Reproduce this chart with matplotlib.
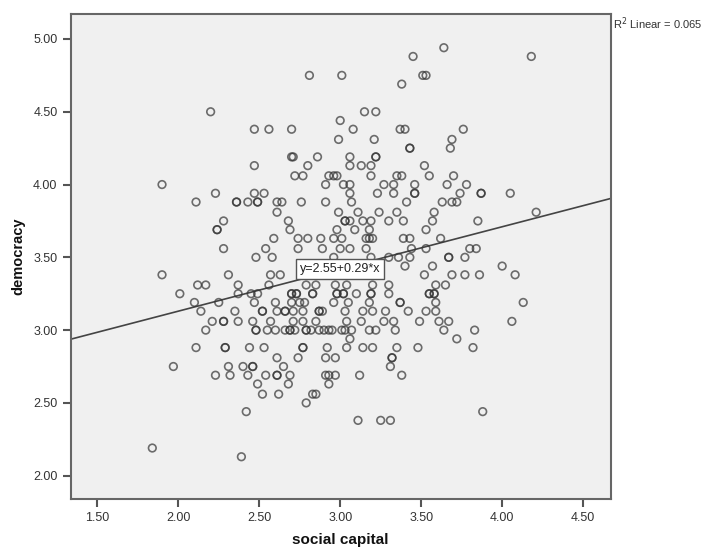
import matplotlib
matplotlib.use("Agg")
import matplotlib.pyplot as plt
import numpy as np

plt.rcParams['font.family'] = ['Liberation Sans', 'DejaVu Sans']

# democracy levels (rows of the scatter) and the social capital values on each row
democracy_levels = [4.94, 4.88, 4.75, 4.69, 4.50, 4.44, 4.38, 4.31, 4.25, 4.19,
                    4.13, 4.06, 4.00, 3.94, 3.88, 3.81, 3.75, 3.69, 3.63, 3.56,
                    3.50, 3.44, 3.38, 3.31, 3.25, 3.19, 3.13, 3.06, 3.00, 2.94,
                    2.88, 2.81, 2.75, 2.69, 2.63, 2.56, 2.50, 2.44, 2.38, 2.19, 2.13]
social_capital_rows = [
    [3.64],
    [3.45, 4.18],
    [2.81, 3.01, 3.51, 3.53],
    [3.38],
    [2.20, 3.15, 3.22],
    [3.00],
    [2.47, 2.56, 2.70, 3.08, 3.37, 3.40, 3.76],
    [2.99, 3.21, 3.69],
    [3.43, 3.43, 3.68],
    [2.70, 2.71, 2.86, 3.06, 3.22, 3.22],
    [2.47, 2.80, 3.06, 3.13, 3.19, 3.52],
    [2.72, 2.77, 2.93, 2.96, 2.98, 3.19, 3.35, 3.38, 3.55, 3.70],
    [1.90, 2.91, 3.02, 3.06, 3.27, 3.33, 3.46, 3.66, 3.78],
    [2.23, 2.47, 2.53, 3.06, 3.23, 3.33, 3.46, 3.46, 3.74, 3.87, 3.87, 4.05],
    [2.11, 2.36, 2.36, 2.43, 2.49, 2.49, 2.61, 2.64, 2.76, 2.91, 3.07, 3.41, 3.63, 3.69, 3.72],
    [2.61, 2.99, 3.11, 3.24, 3.35, 3.58, 4.21],
    [2.28, 2.68, 3.03, 3.03, 3.06, 3.14, 3.19, 3.30, 3.39, 3.57, 3.85],
    [2.24, 2.24, 2.69, 2.98, 3.09, 3.18, 3.53],
    [2.59, 2.74, 2.80, 2.88, 2.96, 3.01, 3.16, 3.18, 3.20, 3.39, 3.43, 3.62],
    [2.28, 2.54, 2.74, 2.89, 3.00, 3.06, 3.16, 3.44, 3.53, 3.80, 3.84],
    [2.48, 2.58, 2.96, 3.19, 3.30, 3.36, 3.43, 3.67, 3.67, 3.77],
    [3.40, 3.57, 4.00],
    [1.90, 2.31, 2.57, 2.63, 3.52, 3.69, 3.77, 3.86, 4.08],
    [2.12, 2.17, 2.37, 2.56, 2.79, 2.85, 2.97, 3.04, 3.20, 3.30, 3.59, 3.65],
    [2.01, 2.37, 2.45, 2.49, 2.70, 2.70, 2.73, 2.73, 2.83, 2.83, 2.98, 2.98, 3.02, 3.02,
     3.10, 3.19, 3.19, 3.30, 3.55, 3.55, 3.58, 3.58],
    [2.10, 2.25, 2.47, 2.60, 2.70, 2.75, 2.78, 2.96, 3.05, 3.18, 3.37, 3.37, 3.59, 4.13],
    [2.14, 2.35, 2.52, 2.52, 2.61, 2.66, 2.66, 2.71, 2.77, 2.87, 2.87, 2.89, 3.03, 3.14,
     3.20, 3.28, 3.42, 3.53, 3.59],
    [2.21, 2.28, 2.28, 2.37, 2.46, 2.57, 2.71, 2.77, 2.85, 3.04, 3.13, 3.27, 3.33, 3.49,
     3.61, 3.67, 4.06],
    [2.17, 2.48, 2.48, 2.55, 2.60, 2.66, 2.69, 2.69, 2.72, 2.79, 2.79, 2.82, 2.87, 2.90,
     2.93, 2.95, 3.01, 3.03, 3.07, 3.18, 3.22, 3.34, 3.64, 3.83],
    [3.06, 3.72],
    [2.11, 2.29, 2.29, 2.44, 2.53, 2.77, 2.77, 2.92, 3.04, 3.14, 3.20, 3.35, 3.48, 3.82],
    [2.61, 2.74, 2.91, 2.97, 3.32, 3.32],
    [1.97, 2.31, 2.40, 2.46, 2.46, 2.65, 3.31],
    [2.23, 2.32, 2.43, 2.54, 2.61, 2.61, 2.69, 2.91, 2.93, 2.97, 3.12, 3.38],
    [2.49, 2.68, 2.93],
    [2.52, 2.62, 2.83, 2.85],
    [2.79],
    [2.42, 3.88],
    [3.11, 3.25, 3.31],
    [1.84],
    [2.39],
]

intercept = 2.55
slope = 0.29
r_square = 0.065
x_ticks = [1.50, 2.00, 2.50, 3.00, 3.50, 4.00, 4.50]
y_ticks = [2.00, 2.50, 3.00, 3.50, 4.00, 4.50, 5.00]

# flatten rows into x / y arrays
x = []
y = []
for level, row in zip(democracy_levels, social_capital_rows):
    x.extend(row)
    y.extend([level] * len(row))

fig = plt.figure(figsize=(7.11, 5.47), dpi=100)
ax = fig.add_axes([0.0994, 0.0878, 0.7595, 0.8867])
ax.set_facecolor('#f0f0f0')

ax.scatter(x, y, s=30, facecolors='none', edgecolors='#333333',
           linewidths=1.2, alpha=0.7, zorder=3)

xmin, xmax = 1.336, 4.67
ax.set_xlim(xmin, xmax)
ax.set_ylim(1.84, 5.172)

# fit line across the whole axis
xs = np.array([xmin, xmax])
ax.plot(xs, intercept + slope * xs, color='#444444', linewidth=1.2, zorder=2)
ax.text(3.0, intercept + slope * 3.0, 'y=2.55+0.29*x', ha='center', va='center',
        fontsize=9, color='#222222', zorder=4,
        bbox=dict(boxstyle='square,pad=0.3', facecolor='white', edgecolor='#555555', linewidth=1))

ax.set_xticks(x_ticks)
ax.set_xticklabels([f'{t:.2f}' for t in x_ticks])
ax.set_yticks(y_ticks)
ax.set_yticklabels([f'{t:.2f}' for t in y_ticks])
ax.tick_params(direction='out', length=6, width=1.5, color='#555555',
               labelsize=9, labelcolor='#333333')
for sp in ax.spines.values():
    sp.set_color('#666666')
    sp.set_linewidth(1.5)

fig.text(340.7 / 711, 1 - 540 / 547, 'social capital', ha='center', va='center',
         fontsize=11, fontweight='bold', color='#111111')
fig.text(18 / 711, 1 - 256 / 547, 'democracy', ha='center', va='center',
         rotation=90, fontsize=10.5, fontweight='bold', color='#111111')
fig.text(613 / 711, 1 - 24 / 547, f'R$^2$ Linear = {r_square:.3f}', ha='left', va='center',
         fontsize=8, color='#333333')

fig.savefig('out.png', dpi=100, facecolor='white')
